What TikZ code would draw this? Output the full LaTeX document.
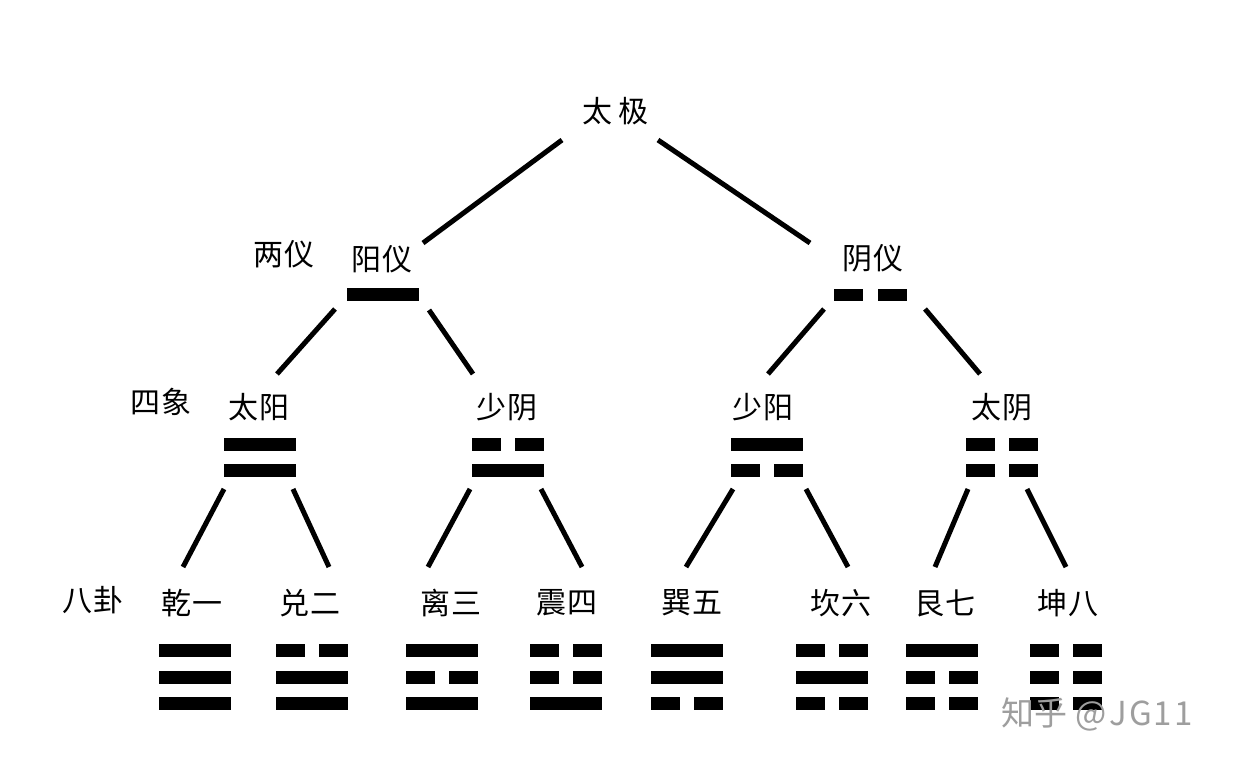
\documentclass[tikz,border=0pt]{standalone}
\usepackage{fontspec}
\newfontfamily\cjk{Noto Sans CJK SC}
\tikzset{
  lbl/.style={font=\cjk\fontsize{30}{32}\selectfont, inner sep=0pt, anchor=center},
  conn/.style={line width=5pt, black},
  wmark/.style={font=\cjk\fontsize{33}{35}\selectfont, inner sep=0pt, text=black!38}
}
% #1 name, #2 centre x, #3 top y, #4 row spacing, #5 lines from top (1 solid, 0 broken)
\newcommand{\gua}[5]{%
  \coordinate (#1) at (#2,#3);
  \foreach \b [count=\i from 0] in {#5} {%
    \ifnum\b=1
      \fill[black] ($(#1)+(-36,\i*#4)$) rectangle ++(72,13);
    \else
      \fill[black] ($(#1)+(-36,\i*#4)$) rectangle ++(29,13);
      \fill[black] ($(#1)+(7,\i*#4)$) rectangle ++(29,13);
    \fi
  }%
}
\usetikzlibrary{calc}
\begin{document}
\begin{tikzpicture}[x=1pt,y=-1pt]
\fill[white] (0,0) rectangle (1233,763);
\useasboundingbox (0,0) rectangle (1233,763);

% labels
\node[lbl] (taiji) at (615,111) {太\hspace{6pt}极};
\node[lbl] (liangyi) at (284,254) {两\hspace{2pt}仪};
\node[lbl] (yangyi) at (382,259) {阳\hspace{2pt}仪};
\node[lbl] (yinyi) at (873,258) {阴\hspace{2pt}仪};
\node[lbl] (sixiang) at (161,402) {四\hspace{2pt}象};
\node[lbl] (taiyang) at (259,407) {太\hspace{2pt}阳};
\node[lbl] (shaoyin) at (507,407) {少\hspace{2pt}阴};
\node[lbl] (shaoyang) at (763,407) {少\hspace{2pt}阳};
\node[lbl] (taiyin) at (1002,407) {太\hspace{2pt}阴};
\node[lbl] (bagua) at (93,600) {八\hspace{2pt}卦};
\node[lbl] (qian) at (192,603) {乾\hspace{2pt}一};
\node[lbl] (dui) at (310,603) {兑\hspace{2pt}二};
\node[lbl] (li) at (451,603) {离\hspace{2pt}三};
\node[lbl] (zhen) at (567,603) {震\hspace{2pt}四};
\node[lbl] (xun) at (692,603) {巽\hspace{2pt}五};
\node[lbl] (kan) at (841,603) {坎\hspace{2pt}六};
\node[lbl] (gen) at (945,603) {艮\hspace{2pt}七};
\node[lbl] (kun) at (1068,603) {坤\hspace{2pt}八};

% yao symbols
\gua{gyang}{383}{288}{26}{1}
\fill[black] (834,289) rectangle (863,301);
\fill[black] (878,289) rectangle (907,301);
\coordinate (gyin) at (870,289);
\gua{gtaiyang}{260}{438}{26}{1,1}
\gua{gshaoyin}{507.5}{438}{26}{0,1}
\gua{gshaoyang}{767}{438}{26}{1,0}
\gua{gtaiyin}{1002}{438}{26}{0,0}
\gua{gqian}{194.5}{644}{26.5}{1,1,1}
\gua{gdui}{312}{644}{26.5}{0,1,1}
\gua{gli}{441.5}{644}{26.5}{1,0,1}
\gua{gzhen}{565.5}{644}{26.5}{0,0,1}
\gua{gxun}{687}{644}{26.5}{1,1,0}
\gua{gkan}{832}{644}{26.5}{0,1,0}
\gua{ggen}{941.5}{644}{26.5}{1,0,0}
\gua{gkun}{1066}{644}{26.5}{0,0,0}

% connector end points
\coordinate (a1) at (562,140); \coordinate (a2) at (423,243);
\coordinate (b1) at (658,140); \coordinate (b2) at (810,243);
\coordinate (c1) at (335,309); \coordinate (c2) at (277,374);
\coordinate (d1) at (429,310); \coordinate (d2) at (473,374);
\coordinate (e1) at (824,309); \coordinate (e2) at (768,374);
\coordinate (f1) at (925,309); \coordinate (f2) at (980,374);
\coordinate (g1) at (224,489); \coordinate (g2) at (183,567);
\coordinate (h1) at (293,489); \coordinate (h2) at (329,567);
\coordinate (i1) at (470,489); \coordinate (i2) at (428,567);
\coordinate (j1) at (541,489); \coordinate (j2) at (582,567);
\coordinate (k1) at (733,489); \coordinate (k2) at (686,567);
\coordinate (l1) at (806,489); \coordinate (l2) at (848,567);
\coordinate (m1) at (968,489); \coordinate (m2) at (935,567);
\coordinate (n1) at (1027,489); \coordinate (n2) at (1066,567);
\foreach \p in {a,b,c,d,e,f,g,h,i,j,k,l,m,n}
  \draw[conn] (\p1) -- (\p2);

% watermark
\node[wmark] (wm) at (1097,714) {知乎\hspace{8pt}@\hspace{3pt}J\hspace{2pt}G\hspace{2pt}1\hspace{2pt}1};
\end{tikzpicture}
\end{document}
